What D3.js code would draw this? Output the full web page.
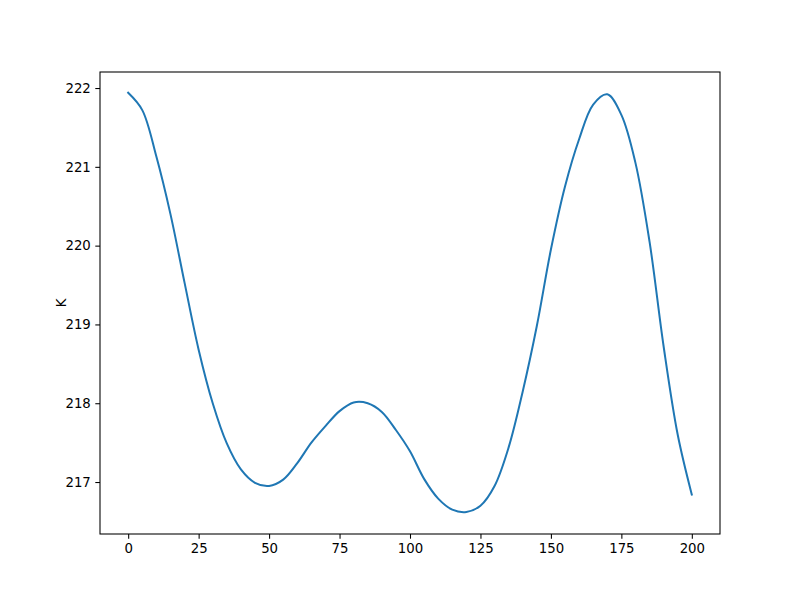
<!DOCTYPE html>
<html>
<head>
<meta charset="utf-8">
<script src="https://cdn.jsdelivr.net/npm/d3@7"></script>
<style>
  body { margin: 0; background: #fff; }
  text { font-family: "DejaVu Sans", sans-serif; }
</style>
</head>
<body>
<div id="chart"></div>
<script>
// values
const xValues = [0, 5, 10, 15, 20, 25, 30, 35, 40, 45, 50, 55, 60, 65, 70, 75, 80, 85, 90, 95,
                 100, 105, 110, 115, 120, 125, 130, 135, 140, 145, 150, 155, 160, 165, 170, 175,
                 180, 185, 190, 195, 200];
const kValues = [221.94, 221.72, 221.13, 220.40, 219.53, 218.68, 218.00, 217.49, 217.16, 216.99,
                 216.95, 217.03, 217.24, 217.50, 217.71, 217.90, 218.01, 218.00, 217.89, 217.66,
                 217.39, 217.04, 216.79, 216.65, 216.62, 216.70, 216.95, 217.44, 218.15, 218.98,
                 219.95, 220.75, 221.35, 221.79, 221.92, 221.66, 221.05, 220.05, 218.72, 217.60,
                 216.84];
const xTicks = [0, 25, 50, 75, 100, 125, 150, 175, 200];
const yTicks = [217, 218, 219, 220, 221, 222];

const WIDTH = 800;
const HEIGHT = 600;
const MARGINS = {left: 100, right: 80, top: 72, bottom: 66};

const data = xValues.map((x, i) => ({x: x, y: kValues[i]}));

const svg = d3.select("#chart")
              .append("svg")
                .attr("width", WIDTH)
                .attr("height", HEIGHT);

// matplotlib-style 5% padding around the data
const xPad = (d3.max(xValues) - d3.min(xValues)) * 0.05;
const yMin = 216.607, yMax = 221.937;
const yPad = (yMax - yMin) * 0.05;

const x = d3.scaleLinear()
            .domain([d3.min(xValues) - xPad, d3.max(xValues) + xPad])
            .range([MARGINS.left, WIDTH - MARGINS.right]);
const y = d3.scaleLinear()
            .domain([yMin - yPad, yMax + yPad])
            .range([HEIGHT - MARGINS.bottom, MARGINS.top]);

// the line
svg.append("path")
    .datum(data)
    .attr("fill", "none")
    .attr("stroke", "#1f77b4")
    .attr("stroke-width", 2)
    .attr("stroke-linecap", "square")
    .attr("d", d3.line()
                 .x((d) => x(d.x))
                 .y((d) => y(d.y))
                 .curve(d3.curveCatmullRom.alpha(0.5)));

// axes
const xAxis = svg.append("g")
    .attr("transform", "translate(0," + (HEIGHT - MARGINS.bottom) + ")")
    .call(d3.axisBottom(x).tickValues(xTicks).tickSize(4.7).tickPadding(4.5).tickSizeOuter(0));
const yAxis = svg.append("g")
    .attr("transform", "translate(" + MARGINS.left + ",0)")
    .call(d3.axisLeft(y).tickValues(yTicks).tickFormat(d3.format("d")).tickSize(4.7).tickPadding(4.5).tickSizeOuter(0));

[xAxis, yAxis].forEach((g) => {
  g.select(".domain").remove();
  g.selectAll(".tick line").attr("stroke", "#000").attr("stroke-width", 1.07);
  g.selectAll(".tick text").attr("fill", "#000").style("font-size", "13.3px")
    .style("font-family", "'DejaVu Sans', sans-serif");
});

// frame
svg.append("rect")
    .attr("x", MARGINS.left)
    .attr("y", MARGINS.top)
    .attr("width", WIDTH - MARGINS.left - MARGINS.right)
    .attr("height", HEIGHT - MARGINS.top - MARGINS.bottom)
    .attr("fill", "none")
    .attr("stroke", "#000")
    .attr("stroke-width", 1.07);

// y label
svg.append("text")
    .attr("transform", "translate(66," + (MARGINS.top + (HEIGHT - MARGINS.top - MARGINS.bottom) / 2) + ") rotate(-90)")
    .attr("text-anchor", "middle")
    .style("font-size", "13.3px")
    .text("K");
</script>
</body>
</html>
